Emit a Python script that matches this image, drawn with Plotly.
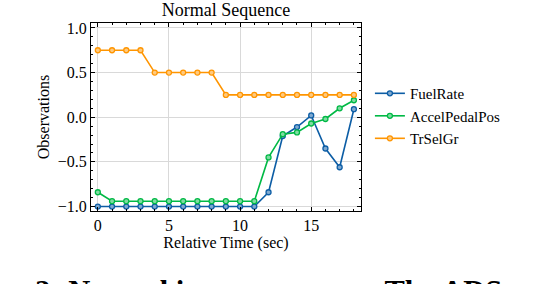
import plotly.graph_objects as go

time = list(range(19))
fuel_rate = [-1, -1, -1, -1, -1, -1, -1, -1, -1, -1, -1, -1, -0.84, -0.21, -0.11, 0.02, -0.35, -0.56, 0.09]
accel_pedal = [-0.84, -0.94, -0.94, -0.94, -0.94, -0.94, -0.94, -0.94, -0.94, -0.94, -0.94, -0.94, -0.45, -0.19, -0.17, -0.07, -0.02, 0.10, 0.19]
tr_sel_gr = [0.75, 0.75, 0.75, 0.75, 0.5, 0.5, 0.5, 0.5, 0.5, 0.25, 0.25, 0.25, 0.25, 0.25, 0.25, 0.25, 0.25, 0.25, 0.25]

series = [("FuelRate", fuel_rate, "#0C5DA5", "#7fa9d0"),
          ("AccelPedalPos", accel_pedal, "#00B945", "#7fdca2"),
          ("TrSelGr", tr_sel_gr, "#FF9500", "#ffca7f")]

FONT = "Liberation Serif, Times New Roman, serif"
W, H = 534, 284
L, T, R, B = 91, 23, 173, 73
PW, PH = W - L - R, H - T - B

fig = go.Figure()
for name, vals, col, fill in series:
    fig.add_trace(go.Scatter(
        x=time, y=vals, name=name, mode="lines+markers",
        line=dict(color=col, width=1.6),
        marker=dict(symbol="circle", size=5, color=fill, line=dict(color=col, width=1.3)),
    ))

axis_common = dict(
    ticks="inside", mirror="allticks", showline=True, linecolor="black", linewidth=1,
    ticklen=4, tickcolor="black", showgrid=True, gridcolor="#d9d9d9", gridwidth=1,
    zeroline=False, tickfont=dict(family=FONT, size=16, color="black"), automargin=False,
)
fig.update_xaxes(range=[-0.48, 18.5], tickvals=[0, 5, 10, 15],
                 minor=dict(ticks="inside", dtick=1, tick0=0, ticklen=2, tickcolor="black", showgrid=False),
                 title=dict(text="Relative Time (sec)", font=dict(family=FONT, size=16, color="black"), standoff=2),
                 **axis_common)
fig.update_yaxes(range=[-1.05, 1.055], tickvals=[-1.0, -0.5, 0.0, 0.5, 1.0],
                 ticktext=["\u22121.0", "\u22120.5", "0.0", "0.5", "1.0"],
                 minor=dict(ticks="inside", dtick=0.1, tick0=0, ticklen=2, tickcolor="black", showgrid=False),
                 title=dict(text="Observations", font=dict(family=FONT, size=16, color="black"), standoff=4),
                 **axis_common)

fig.update_layout(
    width=W, height=H,
    margin=dict(l=L, r=R, t=T, b=B, autoexpand=False),
    plot_bgcolor="white", paper_bgcolor="white",
    title=dict(text="Normal Sequence", x=(L + PW / 2) / W, xanchor="center", y=1 - 10 / H, yanchor="middle",
               font=dict(family=FONT, size=18, color="black"), automargin=False),
    legend=dict(x=1.033, y=0.505, xanchor="left", yanchor="middle", font=dict(family=FONT, size=15, color="black"),
                bgcolor="rgba(0,0,0,0)", itemwidth=30, tracegroupgap=2),
    showlegend=True,
)
fig.add_annotation(text="<b>re 3: Normal input sequence. The ADS p</b>", xref="paper", yref="paper",
                   x=(-1 - L) / PW, y=-(272.5 - (T + PH)) / PH, xanchor="left", yanchor="top", showarrow=False,
                   font=dict(family=FONT, size=30.5, color="black"))

fig.write_html("out.html", config={"displayModeBar": False},
               post_script="document.body.style.margin='0';")
